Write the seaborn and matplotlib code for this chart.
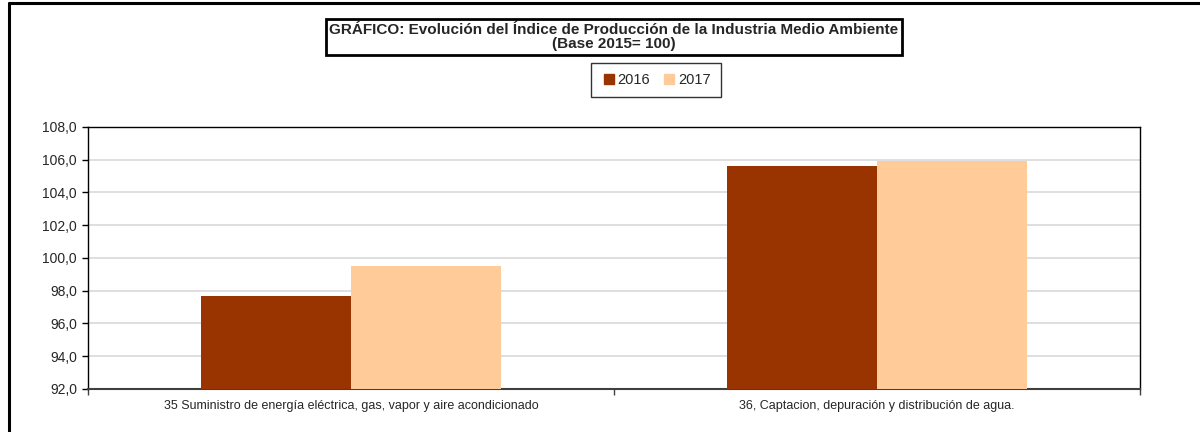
import matplotlib
matplotlib.use("Agg")
import matplotlib.pyplot as plt
from matplotlib.lines import Line2D
from matplotlib.ticker import MultipleLocator, FixedLocator
import seaborn as sns
import pandas as pd

categories = ["35 Suministro de energía eléctrica, gas, vapor y aire acondicionado",
              "36, Captacion, depuración y distribución de agua."]
years = ["2016", "2017"]
values_2016 = [97.7, 105.6]
values_2017 = [99.5, 105.9]
colors = ["#993300", "#FFCC99"]

df = pd.DataFrame({
    "categoria": categories * 2,
    "anio": [years[0]] * 2 + [years[1]] * 2,
    "valor": values_2016 + values_2017,
})

sns.set_theme(style="white")
plt.rcParams["font.family"] = ["Liberation Sans", "DejaVu Sans"]

fig = plt.figure(figsize=(12, 4.32), dpi=100)
ax = fig.add_axes([88 / 1200, 1 - 389 / 432, (1140 - 88) / 1200, (389 - 127) / 432])

sns.barplot(data=df, x="categoria", y="valor", hue="anio", palette=colors,
            width=0.57, gap=0, saturation=1, ax=ax, legend=False, zorder=3)

# bars start at the axis floor, not at zero
for bar in ax.patches:
    h = bar.get_height()
    bar.set_y(92)
    bar.set_height(h - 92)
    bar.set_edgecolor("none")

ax.set_ylim(92, 108)
ax.set_xlim(-0.5, 1.5)
ax.yaxis.set_major_locator(MultipleLocator(2))
ax.set_yticklabels([f"{v:.1f}".replace(".", ",") for v in ax.get_yticks()], fontsize=10)
ax.yaxis.grid(True, color="#D9D9D9", linewidth=1.2, zorder=0)
ax.set_axisbelow(True)
ax.set_xlabel("")
ax.set_ylabel("")

ax.tick_params(axis="x", which="major", length=0, labelsize=9, pad=8)
ax.xaxis.set_minor_locator(FixedLocator([-0.5, 0.5, 1.5]))
ax.tick_params(axis="x", which="minor", bottom=True, length=4, width=1, color="#404040",
               direction="out")
ax.tick_params(axis="y", which="major", length=4, width=1, color="black", direction="out",
               left=True, pad=4)
for side in ["left", "right", "top"]:
    ax.spines[side].set_color("black")
    ax.spines[side].set_linewidth(1)
ax.spines["bottom"].set_color("#404040")
ax.spines["bottom"].set_linewidth(1.5)

# title box
fig.text(614 / 1200, 1 - 37 / 432,
         "GRÁFICO: Evolución del Índice de Producción de la Industria Medio Ambiente\n(Base 2015= 100)",
         ha="center", va="center", fontsize=11, fontweight="bold", linespacing=1.05,
         bbox=dict(boxstyle="square,pad=0.22", facecolor="white", edgecolor="black", linewidth=2))

# legend
handles = [Line2D([], [], marker="s", linestyle="none", markersize=7,
                  markerfacecolor=c, markeredgecolor=c) for c in colors]
leg = fig.legend(handles, years, loc="center", bbox_to_anchor=(656 / 1200, 1 - 80 / 432),
                 ncol=2, fontsize=10.5, frameon=True, fancybox=False, handletextpad=0.1,
                 columnspacing=0.8, borderpad=0.7, handlelength=1.0)
leg.get_frame().set_edgecolor("black")
leg.get_frame().set_linewidth(1)

# outer frame (left and top)
fig.add_artist(Line2D([9 / 1200, 9 / 1200], [0, 1 - 3 / 432], color="black", linewidth=2.2,
                      transform=fig.transFigure))
fig.add_artist(Line2D([9 / 1200, 1], [1 - 3 / 432, 1 - 3 / 432], color="black", linewidth=2.2,
                      transform=fig.transFigure))

fig.savefig("out.png", dpi=100)
